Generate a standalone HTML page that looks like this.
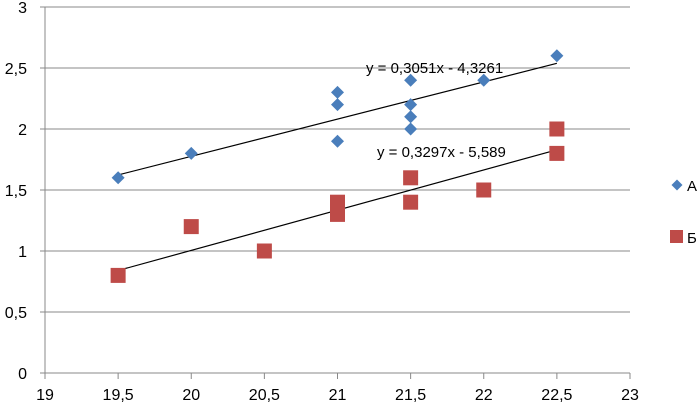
<!DOCTYPE html>
<html><head><meta charset="utf-8"><style>
body{margin:0;background:#fff}
svg{display:block;font-family:"Liberation Sans",sans-serif}
</style></head><body>
<svg id="c" width="699" height="409"></svg>
<script>
const xTicks=[19,19.5,20,20.5,21,21.5,22,22.5,23];
const xTickLabels=["19","19,5","20","20,5","21","21,5","22","22,5","23"];
const yTicks=[0,0.5,1,1.5,2,2.5,3];
const yTickLabels=["0","0,5","1","1,5","2","2,5","3"];
const aX=[19.5,20,21,21,21,21.5,21.5,21.5,21.5,22,22.5];
const aY=[1.6,1.8,2.3,2.2,1.9,2.4,2.2,2.1,2.0,2.4,2.6];
const bX=[19.5,20,20.5,21,21,21.5,21.5,22,22.5,22.5];
const bY=[0.8,1.2,1.0,1.4,1.3,1.6,1.4,1.5,2.0,1.8];
const trendA=[0.3051,-4.3261];
const trendB=[0.3297,-5.589];
const trendLabels=["y = 0,3051x - 4,3261","y = 0,3297x - 5,589"];
const seriesNames=["А","Б"];
const NS="http://www.w3.org/2000/svg";
const svg=document.getElementById('c');
const X=v=>45+(v-19)*(630-45)/4;
const Y=v=>373-v*(373-7)/3;
function el(t,a,p){const e=document.createElementNS(NS,t);for(const k in a)e.setAttribute(k,a[k]);(p||svg).appendChild(e);return e;}
yTicks.forEach((t,i)=>{
  const g=el('line',{x1:40,x2:630,y1:Y(t),y2:Y(t),stroke:'#888','stroke-width':1});
  
  
  const l=el('text',{x:27,y:Y(t)+6,'text-anchor':'end','font-size':16,fill:'#000'});
  l.textContent=yTickLabels[i];
  
  
});
const ax=el('line',{x1:45,x2:45,y1:7,y2:378,stroke:'#888'});


xTicks.forEach((t,i)=>{
  const k=el('line',{x1:X(t),x2:X(t),y1:373,y2:379,stroke:'#888'});
  
  
  const l=el('text',{x:X(t),y:400,'text-anchor':'middle','font-size':16,fill:'#000'});
  l.textContent=xTickLabels[i];
  
  
});
function trend(c,name){
  const x0=Math.min(...aX),x1=Math.max(...aX);
  const l=el('line',{x1:X(x0),y1:Y(c[0]*x0+c[1]),x2:X(x1),y2:Y(c[0]*x1+c[1]),stroke:'#000','stroke-width':1.2});
  
  
}
trend(trendA,'trendline-a');trend(trendB,'trendline-b');
function diamond(cx,cy,s){return `${cx},${cy-s} ${cx+s},${cy} ${cx},${cy+s} ${cx-s},${cy}`;}
aX.forEach((x,i)=>{
  const p=el('polygon',{points:diamond(X(x),Y(aY[i]),6.5),fill:'#4a7ebb'});
  
  
});
bX.forEach((x,i)=>{
  const p=el('rect',{x:X(x)-7.5,y:Y(bY[i])-7.5,width:15,height:15,fill:'#be4b48'});
  
  
});
const t1=el('text',{x:366,y:73,'font-size':15,fill:'#000'});t1.textContent=trendLabels[0];


const t2=el('text',{x:377,y:157,'font-size':15,fill:'#000'});t2.textContent=trendLabels[1];


const lg=el('polygon',{points:diamond(677,185,5.5),fill:'#4a7ebb'});


const la=el('text',{x:687,y:191,'font-size':15});la.textContent=seriesNames[0];


const lb=el('rect',{x:670,y:230,width:13,height:13,fill:'#be4b48'});


const lbt=el('text',{x:687,y:243,'font-size':15});lbt.textContent=seriesNames[1];


</script>
</body></html>
